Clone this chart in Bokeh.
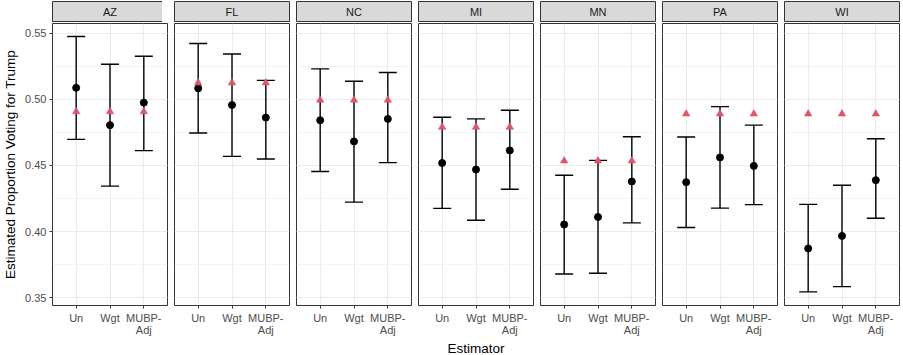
from bokeh.plotting import figure
from bokeh.models import (FactorRange, Range1d, FixedTicker, Grid, LinearAxis,
                          PrintfTickFormatter, Label, ColumnDataSource)
from bokeh.layouts import row, column
from bokeh.embed import file_html
from bokeh.resources import INLINE

# ---------------- data ----------------
states = ["AZ", "FL", "NC", "MI", "MN", "PA", "WI"]
estimators = ["Un", "Wgt", "MUBP-\nAdj"]
y_ticks = [0.35, 0.40, 0.45, 0.50, 0.55]
y_minor = [0.375, 0.425, 0.475, 0.525]

est_AZ = [0.5087, 0.4805, 0.4975]
lo_AZ = [0.4697, 0.4344, 0.4612]
hi_AZ = [0.5475, 0.5265, 0.5325]
est_FL = [0.5083, 0.4957, 0.4862]
lo_FL = [0.4745, 0.4569, 0.4549]
hi_FL = [0.5422, 0.5343, 0.5143]
est_NC = [0.4842, 0.4682, 0.4852]
lo_NC = [0.4455, 0.4223, 0.4522]
hi_NC = [0.5230, 0.5137, 0.5203]
est_MI = [0.4519, 0.4469, 0.4614]
lo_MI = [0.4176, 0.4086, 0.4321]
hi_MI = [0.4865, 0.4852, 0.4917]
est_MN = [0.4054, 0.4111, 0.4379]
lo_MN = [0.3680, 0.3686, 0.4066]
hi_MN = [0.4426, 0.4539, 0.4717]
est_PA = [0.4374, 0.4561, 0.4497]
lo_PA = [0.4031, 0.4178, 0.4204]
hi_PA = [0.4715, 0.4945, 0.4805]
est_WI = [0.3873, 0.3968, 0.4389]
lo_WI = [0.3545, 0.3585, 0.4101]
hi_WI = [0.4206, 0.4351, 0.4702]
truth = [0.4907, 0.5125, 0.4995, 0.4790, 0.4535, 0.4890, 0.4890]

est = dict(AZ=est_AZ, FL=est_FL, NC=est_NC, MI=est_MI, MN=est_MN, PA=est_PA, WI=est_WI)
lo = dict(AZ=lo_AZ, FL=lo_FL, NC=lo_NC, MI=lo_MI, MN=lo_MN, PA=lo_PA, WI=lo_WI)
hi = dict(AZ=hi_AZ, FL=hi_FL, NC=hi_NC, MI=hi_MI, MN=hi_MN, PA=hi_PA, WI=hi_WI)

# ---------------- style ----------------
FONT = "Liberation Sans"
FW, FH, SH = 115, 282, 21
LEFT = 46
TRI = "#DF536B"
GRID = "#EBEBEB"
BORDER = "#333333"

cols = []
for i, st in enumerate(states):
    lb = LEFT if i == 0 else 1
    strip = figure(frame_width=FW, frame_height=SH,
                   x_range=Range1d(0, 1), y_range=Range1d(0, 1),
                   x_axis_location=None, y_axis_location=None,
                   toolbar_location=None, output_backend="svg",
                   min_border_left=lb, min_border_right=1,
                   min_border_top=1, min_border_bottom=0,
                   background_fill_color="#D9D9D9",
                   outline_line_color=BORDER, outline_line_width=1)
    strip.grid.grid_line_color = None
    strip.grid.visible = False
    strip.add_layout(Label(x=0.5, y=0.5, text=st, text_align="center",
                           text_baseline="middle", text_font=FONT,
                           text_font_size="11px", text_color="#1A1A1A"))

    p = figure(frame_width=FW, frame_height=FH,
               x_range=FactorRange(*estimators, range_padding=0.2,
                                   range_padding_units="absolute"),
               y_range=Range1d(0.3442, 0.5573),
               y_axis_location=None,
               toolbar_location=None, output_backend="svg",
               min_border_left=lb, min_border_right=1,
               min_border_top=1, min_border_bottom=0,
               background_fill_color="white",
               outline_line_color=BORDER, outline_line_width=1)

    p.add_layout(Grid(dimension=1,
                      ticker=FixedTicker(ticks=y_ticks, minor_ticks=y_minor),
                      grid_line_color=GRID, grid_line_width=1.1,
                      minor_grid_line_color=GRID, minor_grid_line_width=0.6))
    p.xgrid.grid_line_color = GRID
    p.xgrid.grid_line_width = 1.1

    xa = p.xaxis[0]
    xa.axis_line_color = None
    xa.major_tick_line_color = BORDER
    xa.major_tick_out = 3
    xa.major_tick_in = 0
    xa.major_label_standoff = 3
    xa.major_label_text_font = FONT
    xa.major_label_text_font_size = "11px"
    xa.major_label_text_color = "#4D4D4D"
    xa.major_label_text_line_height = 1.05

    if i == 0:
        ya = LinearAxis(ticker=FixedTicker(ticks=y_ticks),
                        formatter=PrintfTickFormatter(format="%.2f"),
                        axis_label="Estimated Proportion Voting for Trump")
        ya.axis_line_color = None
        ya.major_tick_line_color = BORDER
        ya.major_tick_out = 3
        ya.major_tick_in = 0
        ya.minor_tick_line_color = None
        ya.major_label_standoff = 3
        ya.major_label_text_font = FONT
        ya.major_label_text_font_size = "11px"
        ya.major_label_text_color = "#4D4D4D"
        ya.axis_label_standoff = 4
        ya.axis_label_text_font = FONT
        ya.axis_label_text_font_size = "13.5px"
        ya.axis_label_text_font_style = "normal"
        ya.axis_label_text_color = "black"
        p.add_layout(ya, "left")

    if st == "MI":
        xa.axis_label = "Estimator"
        xa.axis_label_standoff = 2
        xa.axis_label_text_font = FONT
        xa.axis_label_text_font_size = "13.5px"
        xa.axis_label_text_font_style = "normal"
        xa.axis_label_text_color = "black"

    src = ColumnDataSource(dict(x=estimators, est=est[st], lo=lo[st], hi=hi[st],
                                truth=[truth[i]] * len(estimators)))
    p.segment(x0="x", y0="lo", x1="x", y1="hi", source=src,
              line_color="black", line_width=1.4)
    p.scatter(x="x", y="hi", marker="dash", size=18, source=src,
              line_color="black", line_width=1.4)
    p.scatter(x="x", y="lo", marker="dash", size=18, source=src,
              line_color="black", line_width=1.4)
    p.scatter(x="x", y="est", marker="circle", size=7, source=src,
              fill_color="black", line_color="black")
    p.scatter(x="x", y="truth", marker="triangle", size=7.5, source=src,
              fill_color=TRI, line_color=TRI, line_width=0.5)

    cols.append(column(strip, p, spacing=0))

layout = row(cols, spacing=5)

open("out.html", "w").write(file_html(layout, INLINE))
